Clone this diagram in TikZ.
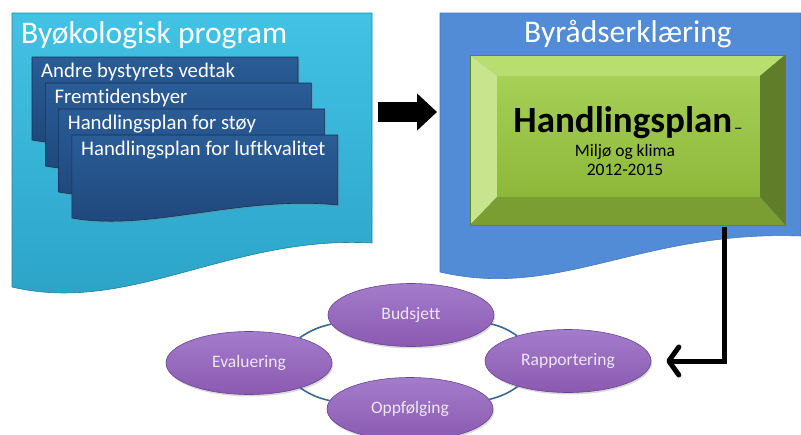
\documentclass[tikz,border=0pt]{standalone}
\usepackage{fontspec}
\setmainfont{Carlito}[Ligatures=NoCommon]
\usetikzlibrary{positioning,calc,arrows.meta,shapes.geometric,shadows}
\definecolor{progcyan}{RGB}{66,194,228}
\definecolor{progcyandk}{RGB}{42,162,198}
\definecolor{stackblue}{RGB}{42,92,150}
\definecolor{stackbluedk}{RGB}{30,70,122}
\definecolor{byrblue}{RGB}{82,140,214}
\definecolor{planface}{RGB}{166,208,86}
\definecolor{planfacedk}{RGB}{140,184,58}
\definecolor{bevtop}{RGB}{184,222,112}
\definecolor{bevleft}{RGB}{200,228,140}
\definecolor{bevright}{RGB}{96,126,42}
\definecolor{bevbot}{RGB}{122,158,50}
\definecolor{planedge}{RGB}{100,130,40}
\definecolor{ellpurple}{RGB}{138,90,176}
\definecolor{ellpurplelt}{RGB}{164,124,204}
\definecolor{ellpurpledk}{RGB}{108,66,146}
\definecolor{ringblue}{RGB}{58,104,140}
\tikzset{progdoc/.style={top color=progcyan,bottom color=progcyandk,draw=progcyandk!80!black,line width=0.6pt}}
\tikzset{byrdoc/.style={fill=byrblue,draw=byrblue!85!black,line width=0.6pt}}
\tikzset{stackdoc/.style={top color=stackblue,bottom color=stackbluedk,draw=stackbluedk!70!black,line width=0.6pt,drop shadow={opacity=0.35,shadow xshift=1.5pt,shadow yshift=-1.5pt}}}
\tikzset{titletext/.style={text=white,inner sep=0pt,font=\fontsize{31.5}{35}\selectfont}}
\tikzset{stacktext/.style={anchor=west,text=white,inner sep=0pt,font=\fontsize{20.8}{24}\selectfont}}
\tikzset{planface/.style={minimum width=263pt,minimum height=121pt,inner sep=0pt,top color=planface,bottom color=planfacedk}}
\tikzset{ell/.style={ellipse,draw=ellpurpledk,line width=0.6pt,top color=ellpurplelt,bottom color=ellpurple,minimum width=166pt,minimum height=63pt,inner sep=0pt,text=white!85!ellpurple,font=\fontsize{17.5}{20}\selectfont,drop shadow={opacity=0.3,shadow xshift=1pt,shadow yshift=-2pt}}}
\tikzset{ring/.style={draw=ringblue,line width=1.6pt}}
\tikzset{bigarrow/.style={line width=20pt,-{Triangle[length=20pt,width=36pt]}}}
\tikzset{elbow/.style={line width=5pt,-{Straight Barb[length=10pt,width=28pt,round]},shorten >=15pt}}

\begin{document}
\begin{tikzpicture}[x=1pt,y=-1pt]
\useasboundingbox (0,0) rectangle (801,434);

% Byøkologisk program
\draw[progdoc] (12,13) -- (372,13) -- (372,243) .. controls (230,235) and (130,315) .. (12,287) -- cycle;
\node[titletext,anchor=base west] (progtitle) at (21,43) {Byøkologisk program};
\foreach \i/\txt in {0/Andre bystyrets vedtak,1/Fremtidensbyer,2/Handlingsplan for støy,3/Handlingsplan for luftkvalitet}{
	\begin{scope}[shift={(32+13.3*\i,57+26*\i)}]
		\draw[stackdoc] (0,0) -- (266,0) -- (266,70) .. controls (168,60) and (78,97) .. (0,83) -- cycle;
		\node[stacktext] (stack\i) at (9,15) {\txt};
	\end{scope}
}

% Byrådserklæring
\draw[byrdoc] (440,13) -- (801,13) -- (801,236) .. controls (640,230) and (560,300) .. (440,272) -- cycle;
\node[titletext,anchor=base] (byrtitle) at (628,42) {Byrådserklæring};

\node[planface] (plan) at (628.5,136.5) {};
\coordinate (gnw) at (470,55);
\coordinate (gne) at (785,55);
\coordinate (gse) at (785,225);
\coordinate (gsw) at (470,225);
\fill[bevtop] (gnw) -- (gne) -- (plan.north east) -- (plan.north west) -- cycle;
\fill[bevleft] (gnw) -- (plan.north west) -- (plan.south west) -- (gsw) -- cycle;
\fill[bevright] (gne) -- (gse) -- (plan.south east) -- (plan.north east) -- cycle;
\fill[bevbot] (gsw) -- (plan.south west) -- (plan.south east) -- (gse) -- cycle;
\draw[planedge,line width=0.8pt] (gnw) rectangle (gse);
\node[anchor=base,inner sep=0pt,font=\bfseries\fontsize{37}{40}\selectfont] (planhead) at (628,132) {Handlingsplan\kern2pt{\mdseries\fontsize{17}{17}\selectfont\raisebox{-1.5pt}{–}}};
\node[anchor=base,inner sep=0pt,font=\fontsize{17.5}{20}\selectfont] (plansub) at (625,156) {Miljø og klima};
\node[anchor=base,inner sep=0pt,font=\fontsize{17.5}{20}\selectfont] (planyear) at (625,175) {2012-2015};

\coordinate (arrowstart) at (378,112);
\coordinate (arrowend) at (437,112);
\draw[bigarrow] (arrowstart) -- (arrowend);

% cycle
\node[ell] (budsjett) at (411,315) {Budsjett};
\node[ell] (evaluering) at (249,363) {Evaluering};
\node[ell] (rapport) at (568,361) {Rapportering};
\node[ell] (oppfolging) at (410,409) {Oppfølging};
\draw[ring] (evaluering) to[bend left=10] (budsjett);
\draw[ring] (budsjett) to[bend left=10] (rapport);
\draw[ring] (rapport) to[bend left=10] (oppfolging);
\draw[ring] (oppfolging) to[bend left=10] (evaluering);

\coordinate (elbowtop) at (724,227);
\draw[elbow] (elbowtop) |- (rapport.east);
\end{tikzpicture}
\end{document}
